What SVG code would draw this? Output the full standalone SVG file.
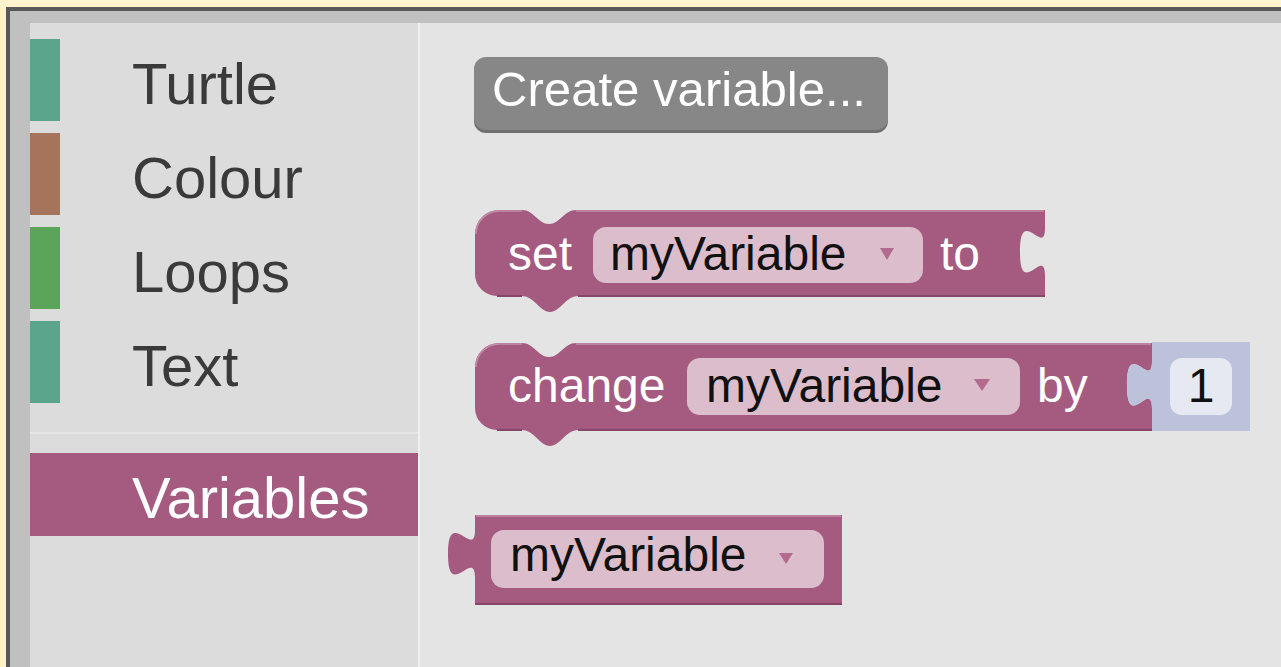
<svg xmlns="http://www.w3.org/2000/svg" width="1281" height="667" viewBox="0 0 1281 667">
  <style>
    .cat { font-family: "Liberation Sans", Arial, sans-serif; font-size: 58px; fill: #3a3a3a; }
    .lbl { font-family: "Liberation Sans", Arial, sans-serif; font-size: 48px; fill: #ffffff; }
    .fld { font-family: "Liberation Sans", Arial, sans-serif; font-size: 48px; fill: #111111; }
    .blk { fill: #a55b80; }
    .fbg { fill: #dbbdcc; }
    .arr { fill: #b36a8f; }
    .hi { stroke: #c38fa9; stroke-width: 1.5; fill: none; }
    .sh { stroke: #86466a; stroke-width: 2; fill: none; }
  </style>

  <!-- frame -->
  <rect x="0" y="0" width="1281" height="667" fill="#fff2cc"/>
  <rect x="6" y="7" width="1275" height="660" fill="#585858"/>
  <rect x="10" y="11" width="1271" height="656" fill="#c0c0c0"/>
  <rect x="30" y="23" width="388" height="644" fill="#dcdcdc"/>
  <rect x="418" y="23" width="2" height="644" fill="#f0f0f0"/>
  <rect x="420" y="23" width="861" height="644" fill="#e4e4e4"/>

  <!-- sidebar categories -->
  <g id="cat-turtle">
    <rect x="30" y="39" width="30" height="82" fill="#5ba58c"/>
    <text class="cat" x="132" y="104">Turtle</text>
  </g>
  <g id="cat-colour">
    <rect x="30" y="133" width="30" height="82" fill="#a5745b"/>
    <text class="cat" x="132" y="198">Colour</text>
  </g>
  <g id="cat-loops">
    <rect x="30" y="227" width="30" height="82" fill="#5ba55b"/>
    <text class="cat" x="132" y="292">Loops</text>
  </g>
  <g id="cat-text">
    <rect x="30" y="321" width="30" height="82" fill="#5ba58c"/>
    <text class="cat" x="132" y="386">Text</text>
  </g>
  <line x1="30" y1="433" x2="418" y2="433" stroke="#e6e6e6" stroke-width="2"/>
  <g id="cat-variables">
    <rect x="30" y="453" width="388" height="83" fill="#a55b80"/>
    <text class="cat" x="132" y="518" style="fill:#ffffff">Variables</text>
  </g>

  <!-- Create variable button -->
  <g id="btn-create">
    <rect x="474" y="59" width="414" height="74" rx="12" fill="#6f6f6f"/>
    <rect x="474" y="57" width="414" height="73" rx="12" fill="#878787"/>
    <text class="lbl" x="492" y="106" textLength="374" lengthAdjust="spacingAndGlyphs">Create variable...</text>
  </g>

  <!-- set block -->
  <g id="blk-set">
    <path class="blk" d="M475,234 A24,24 0 0 1 499,210 H522 C534,210 538,224 549,224 C560,224 564,210 576,210 H1045 V228 c0,30 -25,-24 -25,24 s25,-7.5 25,24 V296 H578 C566,296 560,312 550,312 C540,312 534,296 522,296 H497 A22,22 0 0 1 475,274 Z"/>
    <path class="hi" d="M476,234 A23,23 0 0 1 499,211 H522 M576,211 H1044"/>
    <path class="sh" d="M497,296 H522 M578,296 H1045"/>
    <text class="lbl" x="508" y="270">set</text>
    <rect class="fbg" x="593" y="227" width="330" height="56" rx="13"/>
    <text class="fld" x="610" y="270">myVariable</text>
    <polygon class="arr" points="880,248 894,248 887,260"/>
    <text class="lbl" x="940" y="270">to</text>
  </g>

  <!-- change block -->
  <g id="blk-change">
    <path class="blk" d="M475,367 A24,24 0 0 1 499,343 H522 C534,343 538,357 549,357 C560,357 564,343 576,343 H1152 V361 c0,30 -25,-24 -25,24 s25,-7.5 25,24 V430 H578 C566,430 560,446 550,446 C540,446 534,430 522,430 H497 A22,22 0 0 1 475,408 Z"/>
    <path class="hi" d="M476,367 A23,23 0 0 1 499,344 H522 M576,344 H1151"/>
    <path class="sh" d="M497,430 H522 M578,430 H1152"/>
    <text class="lbl" x="508" y="402">change</text>
    <rect class="fbg" x="687" y="358" width="333" height="57" rx="13"/>
    <text class="fld" x="706" y="402">myVariable</text>
    <polygon class="arr" points="974,379 990,379 982,391"/>
    <text class="lbl" x="1037" y="402">by</text>
  </g>

  <!-- number shadow block -->
  <g id="blk-number">
    <path d="M1152,342 H1250 V431 H1152 Z M1152,361 c0,30 -25,-24 -25,24 s25,-7.5 25,24 Z" fill="#bdc2db"/>
    <rect x="1170" y="358" width="62" height="57" rx="12" fill="#e7e9f2"/>
    <text class="fld" x="1201" y="402" text-anchor="middle">1</text>
  </g>

  <!-- variable getter block -->
  <g id="blk-getter">
    <path class="blk" d="M475,515 H842 V605 H475 Z M475,530 c0,30 -27,-24 -27,24 s27,-7.5 27,24 Z"/>
    <path class="hi" d="M476,516 H841"/>
    <path class="sh" d="M475,604 H842"/>
    <rect class="fbg" x="491" y="530" width="333" height="58" rx="13"/>
    <text class="fld" x="510" y="571">myVariable</text>
    <polygon class="arr" points="779,553 793,553 786,564"/>
  </g>
</svg>
